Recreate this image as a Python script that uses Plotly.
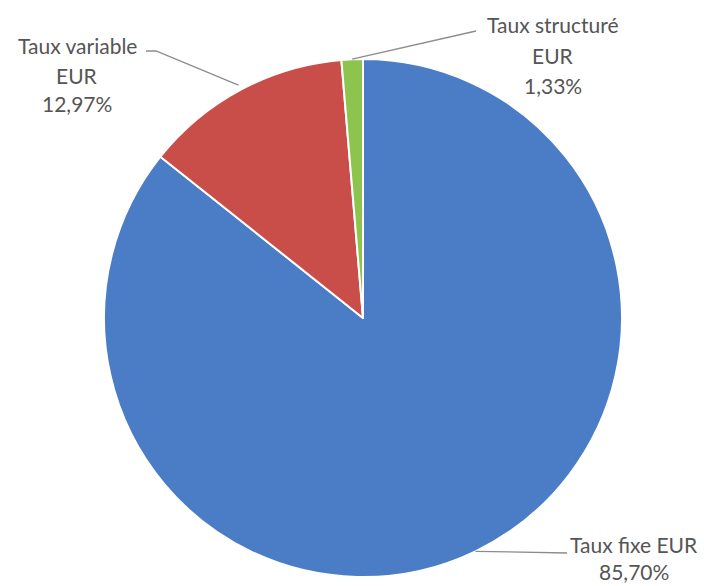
import math
import plotly.graph_objects as go

# Répartition de la dette par type de taux
labels = ["Taux fixe EUR", "Taux variable EUR", "Taux structuré EUR"]
values = [85.70, 12.97, 1.33]
colors = ["#4A7DC6", "#C94E49", "#8CC44E"]
# Lignes de texte des étiquettes (affichées à l'extérieur du camembert)
label_lines = [
    ["Taux fixe EUR", "85,70%"],
    ["Taux variable", "EUR", "12,97%"],
    ["Taux structuré", "EUR", "1,33%"],
]

W, H = 704, 586
cx, cy, r = 363, 318, 259  # centre et rayon du camembert (pixels)

fig = go.Figure(
    go.Pie(
        labels=labels,
        values=values,
        sort=False,
        direction="clockwise",
        rotation=0,
        marker=dict(colors=colors, line=dict(color="white", width=2)),
        textinfo="none",
        hoverinfo="label+percent",
        domain=dict(
            x=[(cx - r) / W, (cx + r) / W],
            y=[(H - cy - r) / H, (H - cy + r) / H],
        ),
        showlegend=False,
    )
)


def px(x, y):
    """Pixels (origine en haut à gauche) -> coordonnées papier."""
    return x / W, 1 - y / H


# Angle médian de chaque part, mesuré depuis midi dans le sens horaire
total = sum(values)
mid_angles = []
acc = 0.0
for v in values:
    mid_angles.append((acc + v / 2) / total * 2 * math.pi)
    acc += v

# Points d'arrivée des lignes de rappel (côté texte) et position des textes
ends = [
    [(567, 553)],
    [(156, 51), (146, 51)],
    [(476, 31)],
]
text_pos = [
    (634, [544, 571]),
    (77, [45, 75, 103]),
    (553, [25, 56, 86]),
]
edge_factor = [1.0, 1.02, 1.0]

shapes = []
for ang, f, pts in zip(mid_angles, edge_factor, ends):
    x0 = cx + r * f * math.sin(ang)
    y0 = cy - r * f * math.cos(ang)
    path_pts = [(x0, y0)] + pts
    d = ""
    for i, (x, y) in enumerate(path_pts):
        X, Y = px(x, y)
        d += ("M" if i == 0 else " L") + f"{X:.5f},{Y:.5f}"
    shapes.append(
        dict(type="path", path=d, xref="paper", yref="paper",
             line=dict(color="#8C8C8C", width=1.3))
    )

annotations = []
for lines, (tx, tys) in zip(label_lines, text_pos):
    for line, ty in zip(lines, tys):
        X, Y = px(tx, ty)
        annotations.append(
            dict(text=line, x=X, y=Y, xref="paper", yref="paper",
                 xanchor="center", yanchor="middle", showarrow=False,
                 font=dict(family="Lato", size=21, color="#555555"))
        )

fig.update_layout(
    width=W,
    height=H,
    margin=dict(l=0, r=0, t=0, b=0),
    paper_bgcolor="white",
    plot_bgcolor="white",
    shapes=shapes,
    annotations=annotations,
)

fig.write_html("out.html")
